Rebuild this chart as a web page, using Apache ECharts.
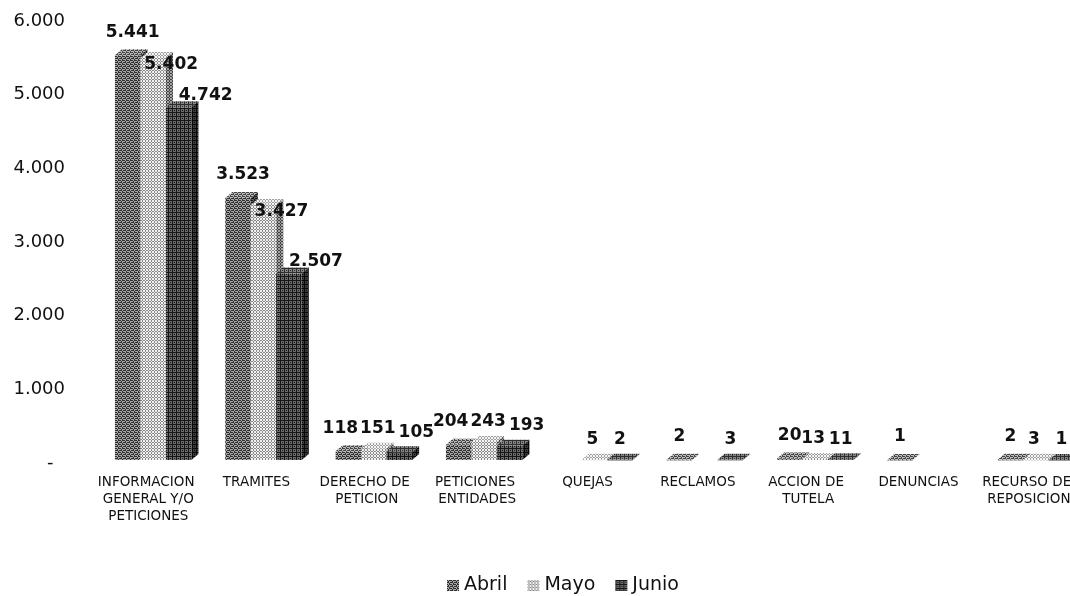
<!DOCTYPE html>
<html>
<head>
<meta charset="utf-8">
<script src="https://cdn.jsdelivr.net/npm/echarts@6/dist/echarts.min.js"></script>
<style>
  html, body { margin: 0; padding: 0; background: #ffffff; }
  #chart { width: 1070px; height: 596px; }
</style>
</head>
<body>
<div id="chart"></div>
<script>
// Request types received per month
const categories = [
  'INFORMACION GENERAL Y/O PETICIONES',
  'TRAMITES',
  'DERECHO DE PETICION',
  'PETICIONES ENTIDADES',
  'QUEJAS',
  'RECLAMOS',
  'ACCION DE TUTELA',
  'DENUNCIAS',
  'RECURSO DE REPOSICION'
];
const seriesNames = ['Abril', 'Mayo', 'Junio'];
const abril = [5441, 3523, 118, 204, null, 2, 20, 1, 2];
const mayo  = [5402, 3427, 151, 243, 5, null, 13, null, 3];
const junio = [4742, 2507, 105, 193, 2, 3, 11, null, 1];
const yTicks = [0, 1000, 2000, 3000, 4000, 5000, 6000];

// Thousands separator in Spanish style: 5441 -> "5.441"
function fmt(v) {
  return String(v).replace(/\B(?=(\d{3})+(?!\d))/g, '.');
}

// Small halftone tiles used as fills for the columns
function tile(rows, colors) {
  const h = rows.length, w = rows[0].length;
  const c = document.createElement('canvas');
  c.width = w; c.height = h;
  const ctx = c.getContext('2d');
  for (let y = 0; y < h; y++) {
    for (let x = 0; x < w; x++) {
      ctx.fillStyle = colors[+rows[y][x]];
      ctx.fillRect(x, y, 1, 1);
    }
  }
  return { image: c, repeat: 'repeat' };
}
const stipple = ['1011', '0100', '1101', '0010'];
const dots    = ['010', '101', '010'];
const grid    = ['1111', '1000', '1010', '1000'];

const fills = [
  { front: tile(stipple, ['#a8a8a8', '#2e2e2e']),
    top:   tile(stipple, ['#bcbcbc', '#444444']),
    side:  tile(stipple, ['#606060', '#141414']) },
  { front: tile(dots, ['#f0f0f0', '#8a8a8a']),
    top:   tile(dots, ['#f4f4f4', '#a0a0a0']),
    side:  tile(dots, ['#a4a4a4', '#404040']) },
  { front: tile(grid, ['#6a6a6a', '#161616']),
    top:   tile(grid, ['#858585', '#2e2e2e']),
    side:  tile(grid, ['#3c3c3c', '#080808']) }
];

// Label placement per series, relative to the top of the front face
function labelOffset(s, v) {
  if (s === 0) return [v > 1000 ? 5 : (v > 100 ? -8 : 0), -23];
  if (s === 1) return v > 1000 ? [18, 7] : [v > 100 ? 4 : -2, -20];
  return v > 1000 ? [27, -12] : [v > 100 ? 17 : 0, -20];
}

// Column with a front face, a top face and a right side face
function renderColumn(params, api) {
  const v = api.value(1);
  if (v == null || isNaN(v)) return null;
  const s = params.seriesIndex;
  const band = api.size([1, 0])[0];
  const p0 = api.coord([api.value(0), 0]);
  const pv = api.coord([api.value(0), v]);
  const w = band * 0.231;
  const dx = band * 0.064;
  const dy = 6;
  const x0 = p0[0] - 1.5 * w + s * w;
  const yBot = p0[1] - 3;
  const yTop = yBot - (p0[1] - pv[1]) * 1.01;
  const f = fills[s];
  const off = labelOffset(s, v);
  return {
    type: 'group',
    children: [
      { type: 'rect', shape: { x: x0, y: yTop, width: w, height: Math.max(yBot - yTop, 0.5) },
        style: { fill: f.front } },
      { type: 'polygon',
        shape: { points: [[x0, yTop], [x0 + dx, yTop - dy], [x0 + w + dx, yTop - dy], [x0 + w, yTop]] },
        style: { fill: f.top } },
      { type: 'polygon',
        shape: { points: [[x0 + w, yTop], [x0 + w + dx, yTop - dy], [x0 + w + dx, yBot - dy], [x0 + w, yBot]] },
        style: { fill: f.side } },
      { type: 'text', z2: 100,
        style: { text: fmt(v), x: x0 + w / 2 + off[0], y: yTop + off[1],
                 align: 'center', verticalAlign: 'middle',
                 font: 'bold 17px "DejaVu Sans"', fill: '#111111' } }
    ]
  };
}

const values = [abril, mayo, junio];
const series = seriesNames.map((name, s) => ({
  name: name,
  type: 'custom',
  renderItem: renderColumn,
  itemStyle: { color: fills[s].front },
  encode: { x: 0, y: 1 },
  data: values[s].map((v, i) => [i, v == null ? '-' : v])
}));

const chart = echarts.init(document.getElementById('chart'), null, { renderer: 'canvas' });
chart.setOption({
  animation: false,
  backgroundColor: '#ffffff',
  grid: { left: 98, right: -21, top: 21, bottom: 133, containLabel: false, outerBoundsMode: 'none' },
  xAxis: {
    type: 'category',
    data: categories,
    axisLine: { show: false },
    axisTick: { show: false },
    splitLine: { show: false },
    axisLabel: {
      interval: 0,
      margin: 11,
      width: 100,
      overflow: 'break',
      padding: [0, 14, 0, 0],
      fontFamily: 'DejaVu Sans',
      fontSize: 13.5,
      lineHeight: 17,
      color: '#111111'
    }
  },
  yAxis: {
    type: 'value',
    min: yTicks[0],
    max: yTicks[yTicks.length - 1],
    interval: 1000,
    axisLine: { show: false },
    axisTick: { show: false },
    splitLine: { show: false },
    axisLabel: {
      margin: 33,
      align: 'right',
      fontFamily: 'DejaVu Sans',
      fontSize: 18,
      color: '#111111',
      formatter: v => (v === 0 ? '-  ' : fmt(v))
    }
  },
  legend: {
    data: seriesNames,
    left: 442,
    top: 571,
    itemWidth: 12,
    itemHeight: 11,
    itemGap: 20,
    icon: 'rect',
    textStyle: { fontFamily: 'DejaVu Sans', fontSize: 19, color: '#111111' }
  },
  series: series
});
</script>
</body>
</html>
